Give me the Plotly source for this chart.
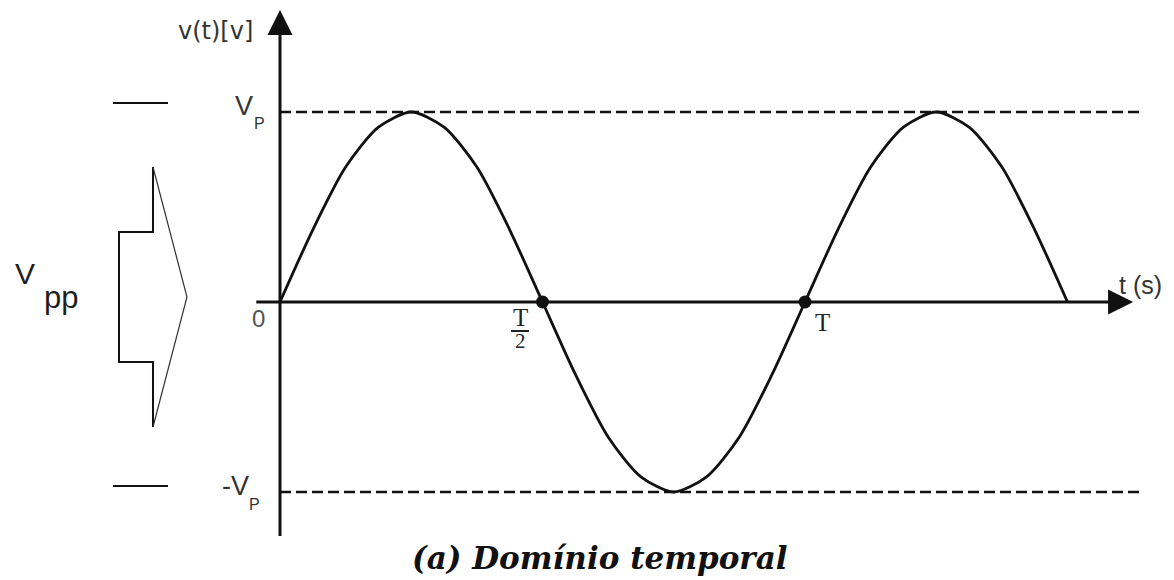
import plotly.graph_objects as go

W, H = 1174, 580

# Waveform samples: time in units of T, voltage in units of Vp
t_wave = [0, 0.0625, 0.125, 0.1875, 0.25, 0.3125, 0.375, 0.4375, 0.5,
          0.5625, 0.625, 0.6875, 0.75, 0.8125, 0.875, 0.9375, 1.0,
          1.0625, 1.125, 1.1875, 1.25, 1.3125, 1.375, 1.4375, 1.5]
v_wave = [0, 0.38, 0.71, 0.92, 1, 0.92, 0.71, 0.38, 0,
          -0.38, -0.71, -0.92, -1, -0.92, -0.71, -0.38, 0,
          0.38, 0.71, 0.92, 1, 0.92, 0.71, 0.38, 0]

# Marked zero crossings on the time axis
t_marks = [0.5, 1.0]
v_marks = [0, 0]

# Peak levels (+Vp / -Vp) and how far their guide lines run
v_levels = [1, -1]
t_level_end = 1.64

# Extents of the two drawn axes
t_axis = [-0.048, 1.625]
v_axis = [-1.24, 1.537]

# Screen scale: origin pixel and pixels per unit
X0, Y0 = 280, 302
PX_T, PX_V = 525, 190

INK = "#111111"


def paper_x(px):
    return px / W


def paper_y(py):
    return 1 - py / H


fig = go.Figure()

# dashed guide lines at +Vp and -Vp
for lv in v_levels:
    fig.add_trace(go.Scatter(
        x=[0, t_level_end], y=[lv, lv], mode="lines",
        line=dict(color=INK, width=2.6, dash="11px,5px"),
        hoverinfo="skip", showlegend=False))

# the sine wave
fig.add_trace(go.Scatter(
    x=t_wave, y=v_wave, mode="lines",
    line=dict(color=INK, width=2.8, shape="spline", smoothing=0.75),
    hoverinfo="skip", showlegend=False))

# zero-crossing dots
fig.add_trace(go.Scatter(
    x=t_marks, y=v_marks, mode="markers",
    marker=dict(color=INK, size=13),
    hoverinfo="skip", showlegend=False))

annotations = []

# axes with arrowheads
annotations.append(dict(
    x=t_axis[1], y=0, ax=t_axis[0], ay=0, xref="x", yref="y", axref="x", ayref="y",
    text="", showarrow=True, arrowhead=2, arrowwidth=3, arrowsize=1.67, arrowcolor=INK))
annotations.append(dict(
    x=0, y=v_axis[1], ax=0, ay=v_axis[0], xref="x", yref="y", axref="x", ayref="y",
    text="", showarrow=True, arrowhead=2, arrowwidth=3, arrowsize=1.67, arrowcolor=INK))


def label(text, px, py, size, family="Liberation Sans", color="#222222", **font_extra):
    annotations.append(dict(
        x=paper_x(px), y=paper_y(py), xref="paper", yref="paper",
        text=text, showarrow=False, xanchor="center", yanchor="middle",
        font=dict(family=family, size=size, color=color, **font_extra)))


# axis titles
label("v(t)[v]", 215, 31, 24, family="DejaVu Sans", color="#333333")
label("t (s)", 1140, 285, 25, color="#333333")

# peak level labels
label("V", 244, 106, 27, color="#333333")
label("P", 259, 123, 16, color="#333333")
label("-V", 235, 486, 27, color="#333333")
label("P", 254, 504, 16, color="#333333")

# time-axis tick labels
label("0", 258, 318, 24, color="#555555")
label("T", 520, 317, 25, family="Liberation Serif", color="#222222")
label("2", 520, 341, 21, family="Liberation Serif", color="#222222")
label("T", 822, 322, 25, family="Liberation Serif", color="#222222")

# peak-to-peak label
label("V", 25, 273, 30, color="#1f1f1f")
label("pp", 61, 297, 31, color="#1f1f1f")

# caption
label("(a) Domínio temporal", 600, 558, 31, family="DejaVu Serif",
      color="#111111", weight="bold", style="italic")

shapes = []

# fraction bar of T/2
shapes.append(dict(type="line", xref="paper", yref="paper",
                   x0=paper_x(511), x1=paper_x(529), y0=paper_y(331), y1=paper_y(331),
                   line=dict(color="#222222", width=2)))

# short level markers to the left of the block arrow
for py in (103, 486):
    shapes.append(dict(type="line", xref="paper", yref="paper",
                       x0=paper_x(113), x1=paper_x(168), y0=paper_y(py), y1=paper_y(py),
                       line=dict(color=INK, width=2)))

# block arrow spanning the peak-to-peak range: stepped body
body = [(153, 167), (153, 232), (119, 232), (119, 362), (153, 362), (153, 427)]
path = "M" + " L".join(f"{paper_x(x):.5f},{paper_y(y):.5f}" for x, y in body)
shapes.append(dict(type="path", xref="paper", yref="paper", path=path,
                   line=dict(color=INK, width=2)))
# pointed head
head = [(153, 167), (187, 297), (153, 427)]
path = "M" + " L".join(f"{paper_x(x):.5f},{paper_y(y):.5f}" for x, y in head)
shapes.append(dict(type="path", xref="paper", yref="paper", path=path,
                   line=dict(color="#333333", width=1.2)))

fig.update_layout(
    width=W, height=H, autosize=False,
    margin=dict(l=0, r=0, t=0, b=0),
    paper_bgcolor="white", plot_bgcolor="white",
    xaxis=dict(range=[-X0 / PX_T, (W - X0) / PX_T], visible=False, fixedrange=True),
    yaxis=dict(range=[-(H - Y0) / PX_V, Y0 / PX_V], visible=False, fixedrange=True),
    annotations=annotations, shapes=shapes,
    showlegend=False,
)

fig.write_html("out.html", config={"displayModeBar": False})
